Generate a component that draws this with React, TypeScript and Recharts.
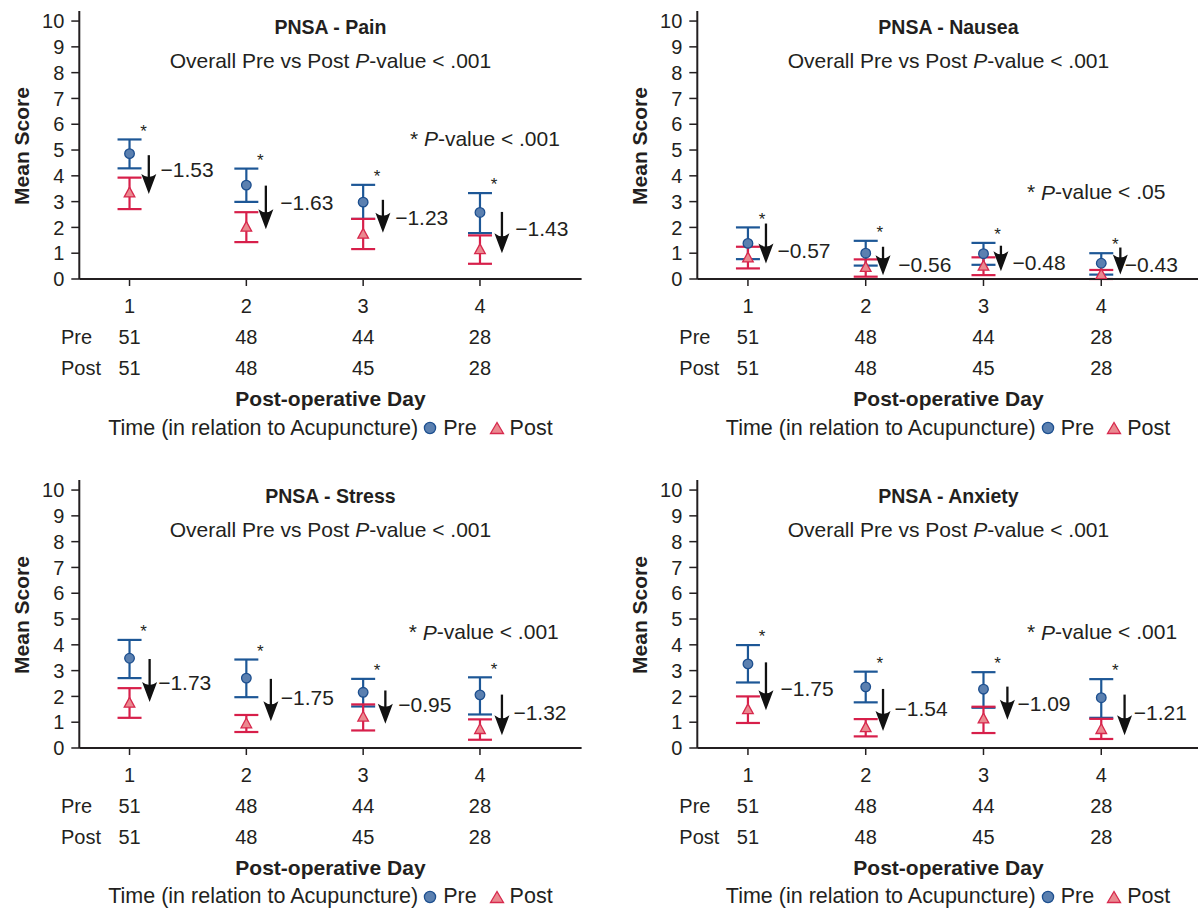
import React from 'react';
import { ComposedChart, Scatter, ErrorBar, XAxis, YAxis } from 'recharts';

const INK = '#231f20';
const FONT = '"Liberation Sans", Arial, Helvetica, sans-serif';
const BLUE_LINE = '#1d5796';
const BLUE_FILL = '#5b80b0';
const BLUE_EDGE = '#1d4f8f';
const RED_LINE = '#d71f4a';
const RED_FILL = '#ea8990';
const RED_EDGE = '#d7294d';

// shared categories / counts
const DAYS = [1, 2, 3, 4];
const PRE_N = [51, 48, 44, 28];
const POST_N = [51, 48, 45, 28];
const Y_TICKS = [0, 1, 2, 3, 4, 5, 6, 7, 8, 9, 10];

// PNSA - Pain
const painPre = [4.86, 3.64, 2.98, 2.58];
const painPreLow = [4.29, 2.99, 2.33, 1.78];
const painPreHigh = [5.41, 4.28, 3.65, 3.33];
const painPost = [3.33, 2.0, 1.73, 1.13];
const painPostLow = [2.71, 1.43, 1.16, 0.59];
const painPostHigh = [3.93, 2.59, 2.33, 1.69];
const painChange = ['\u22121.53', '\u22121.63', '\u22121.23', '\u22121.43'];

// PNSA - Nausea
const nauseaPre = [1.38, 1.0, 0.98, 0.61];
const nauseaPreLow = [0.77, 0.52, 0.55, 0.17];
const nauseaPreHigh = [2.0, 1.48, 1.4, 1.0];
const nauseaPost = [0.81, 0.44, 0.49, 0.16];
const nauseaPostLow = [0.41, 0.09, 0.15, 0.0];
const nauseaPostHigh = [1.25, 0.76, 0.84, 0.35];
const nauseaChange = ['\u22120.57', '\u22120.56', '\u22120.48', '\u22120.43'];

// PNSA - Stress
const stressPre = [3.48, 2.71, 2.16, 2.06];
const stressPreLow = [2.71, 1.97, 1.61, 1.3];
const stressPreHigh = [4.19, 3.43, 2.68, 2.74];
const stressPost = [1.73, 0.93, 1.19, 0.71];
const stressPostLow = [1.17, 0.62, 0.68, 0.32];
const stressPostHigh = [2.32, 1.28, 1.69, 1.11];
const stressChange = ['\u22121.73', '\u22121.75', '\u22120.95', '\u22121.32'];

// PNSA - Anxiety
const anxietyPre = [3.26, 2.37, 2.28, 1.95];
const anxietyPreLow = [2.54, 1.77, 1.56, 1.17];
const anxietyPreHigh = [3.99, 2.96, 2.94, 2.67];
const anxietyPost = [1.48, 0.78, 1.12, 0.71];
const anxietyPostLow = [0.97, 0.45, 0.58, 0.35];
const anxietyPostHigh = [2.0, 1.12, 1.6, 1.13];
const anxietyChange = ['\u22121.75', '\u22121.54', '\u22121.09', '\u22121.21'];

type Annot = {
  arrowFrom: number[];
  arrowTo: number[];
  arrowDx: number[];
  labelAt: number[];
  labelDx: number[];
  note: string;
  noteAt: [number, number];
};

type PanelDef = {
  title: string;
  pre: number[];
  preLow: number[];
  preHigh: number[];
  post: number[];
  postLow: number[];
  postHigh: number[];
  change: string[];
  annot: Annot;
};

const panels: PanelDef[] = [
  {
    title: 'PNSA - Pain',
    pre: painPre, preLow: painPreLow, preHigh: painPreHigh,
    post: painPost, postLow: painPostLow, postHigh: painPostHigh,
    change: painChange,
    annot: {
      arrowFrom: [4.8, 3.62, 3.07, 2.6],
      arrowTo: [3.3, 1.93, 1.79, 1.0],
      arrowDx: [0.165, 0.167, 0.169, 0.188],
      labelAt: [4.25, 2.98, 2.38, 1.97],
      labelDx: [0.265, 0.291, 0.274, 0.302],
      note: '.001',
      noteAt: [3.4, 5.46],
    },
  },
  {
    title: 'PNSA - Nausea',
    pre: nauseaPre, preLow: nauseaPreLow, preHigh: nauseaPreHigh,
    post: nauseaPost, postLow: nauseaPostLow, postHigh: nauseaPostHigh,
    change: nauseaChange,
    annot: {
      arrowFrom: [2.15, 1.25, 1.29, 1.22],
      arrowTo: [0.6, 0.15, 0.3, 0.17],
      arrowDx: [0.153, 0.147, 0.148, 0.162],
      labelAt: [1.1, 0.58, 0.64, 0.55],
      labelDx: [0.25, 0.276, 0.246, 0.2],
      note: '.05',
      noteAt: [3.37, 3.38],
    },
  },
  {
    title: 'PNSA - Stress',
    pre: stressPre, preLow: stressPreLow, preHigh: stressPreHigh,
    post: stressPost, postLow: stressPostLow, postHigh: stressPostHigh,
    change: stressChange,
    annot: {
      arrowFrom: [3.45, 2.68, 2.23, 2.07],
      arrowTo: [1.78, 1.04, 0.94, 0.49],
      arrowDx: [0.172, 0.21, 0.19, 0.188],
      labelAt: [2.55, 1.97, 1.69, 1.39],
      labelDx: [0.245, 0.295, 0.3, 0.286],
      note: '.001',
      noteAt: [3.39, 4.51],
    },
  },
  {
    title: 'PNSA - Anxiety',
    pre: anxietyPre, preLow: anxietyPreLow, preHigh: anxietyPreHigh,
    post: anxietyPost, postLow: anxietyPostLow, postHigh: anxietyPostHigh,
    change: anxietyChange,
    annot: {
      arrowFrom: [3.32, 2.29, 2.38, 2.07],
      arrowTo: [1.46, 0.66, 1.1, 0.49],
      arrowDx: [0.153, 0.147, 0.203, 0.198],
      labelAt: [2.29, 1.52, 1.71, 1.39],
      labelDx: [0.276, 0.245, 0.288, 0.276],
      note: '.001',
      noteAt: [3.37, 4.51],
    },
  },
];

const CHART_W = 600;
const CHART_H = 440;
const MARGIN = { top: 11, right: 18.4, bottom: 21, left: 29.3 };
const PLOT_CX = MARGIN.left + 50 + (CHART_W - MARGIN.left - 50 - MARGIN.right) / 2;

/** x-axis tick: day number plus the two n rows */
const DayTick = (props: any) => {
  const { x, y, payload } = props;
  const i = DAYS.indexOf(payload.value);
  const common = { textAnchor: 'middle' as const, dominantBaseline: 'central' as const, fill: INK, fontSize: 20 };
  return (
    <g>
      <text x={x} y={y + 20} {...common}>{payload.value}</text>
      <text x={x} y={y + 51} {...common}>{PRE_N[i]}</text>
      <text x={x} y={y + 82} {...common}>{POST_N[i]}</text>
      {i === 0 && (
        <>
          <text x={x - 68.6} y={y + 51} {...common} textAnchor="start">Pre</text>
          <text x={x - 68.6} y={y + 82} {...common} textAnchor="start">Post</text>
        </>
      )}
    </g>
  );
};

const XTitle = (props: any) => {
  const vb = props.viewBox || {};
  return (
    <text x={vb.x + vb.width / 2} y={vb.y + 119} textAnchor="middle" dominantBaseline="central"
      fill={INK} fontSize={21} fontWeight="bold">
      Post-operative Day
    </text>
  );
};

const YTitle = (props: any) => {
  const vb = props.viewBox || {};
  const cx = vb.x - 8;
  const cy = 146;
  return (
    <text x={cx} y={cy} transform={`rotate(-90, ${cx}, ${cy})`} textAnchor="middle" dominantBaseline="central"
      fill={INK} fontSize={21} fontWeight="bold">
      Mean Score
    </text>
  );
};

const PreDot = (p: any) => (
  <circle cx={p.cx} cy={p.cy} r={4.8} fill={BLUE_FILL} stroke={BLUE_EDGE} strokeWidth={1.3} />
);

const PostTri = (p: any) => (
  <polygon
    points={`${p.cx},${p.cy - 6} ${p.cx - 5.3},${p.cy + 3.8} ${p.cx + 5.3},${p.cy + 3.8}`}
    fill={RED_FILL} stroke={RED_EDGE} strokeWidth={1.3}
  />
);

const Blank = () => <g />;

const ArrowHead = (p: any) => (
  <path
    d={`M${p.cx},${p.cy} L${p.cx - 7.5},${p.cy - 20} Q${p.cx},${p.cy - 14} ${p.cx + 7.5},${p.cy - 20} Z`}
    fill="#111"
  />
);

const Star = (p: any) => (
  <text x={p.cx} y={p.cy + 5} textAnchor="middle" fontSize={17} fill={INK}>*</text>
);

const ChangeLabel = (p: any) => (
  <text x={p.cx} y={p.cy} textAnchor="start" dominantBaseline="central" fontSize={21} fill={INK}>
    {p.payload.label}
  </text>
);

const NoteLabel = (p: any) => (
  <text x={p.cx} y={p.cy} textAnchor="start" dominantBaseline="central" fontSize={21} fill={INK}>
    {'* '}<tspan fontStyle="italic">P</tspan>{`-value < ${p.payload.label}`}
  </text>
);

function Panel({ def, left, top, xMax }: { def: PanelDef; left: number; top: number; xMax: number }) {
  const a = def.annot;
  const preData = DAYS.map((d, i) => ({
    x: d, y: def.pre[i], err: [def.pre[i] - def.preLow[i], def.preHigh[i] - def.pre[i]],
  }));
  const postData = DAYS.map((d, i) => ({
    x: d, y: def.post[i], err: [def.post[i] - def.postLow[i], def.postHigh[i] - def.post[i]],
  }));
  const shaftData = DAYS.map((d, i) => ({
    x: d + a.arrowDx[i], y: a.arrowFrom[i], err: [a.arrowFrom[i] - a.arrowTo[i] - 0.3, 0],
  }));
  const headData = DAYS.map((d, i) => ({ x: d + a.arrowDx[i], y: a.arrowTo[i] }));
  const starData = DAYS.map((d, i) => ({ x: d + 0.12, y: def.preHigh[i] + 0.3 }));
  const labelData = DAYS.map((d, i) => ({ x: d + a.labelDx[i], y: a.labelAt[i], label: def.change[i] }));
  const noteData = [{ x: a.noteAt[0], y: a.noteAt[1], label: a.note }];

  return (
    <div style={{ position: 'absolute', left, top, width: CHART_W, height: CHART_H }}>
      <ComposedChart width={CHART_W} height={CHART_H} margin={MARGIN}>
        <XAxis
          type="number"
          dataKey="x"
          domain={[0.57, xMax]}
          ticks={DAYS}
          allowDataOverflow
          height={140}
          tickSize={7}
          tickMargin={0}
          tick={<DayTick />}
          axisLine={{ stroke: INK, strokeWidth: 2 }}
          tickLine={{ stroke: INK, strokeWidth: 1.5 }}
          label={<XTitle />}
        />
        <YAxis
          type="number"
          dataKey="y"
          domain={[0, 10.39]}
          ticks={Y_TICKS}
          interval={0}
          allowDataOverflow
          width={50}
          tickSize={8}
          tickMargin={7}
          tick={{ fill: INK, fontSize: 20 }}
          axisLine={{ stroke: INK, strokeWidth: 2 }}
          tickLine={{ stroke: INK, strokeWidth: 1.5 }}
          label={<YTitle />}
        />
        <Scatter data={preData} shape={PreDot} isAnimationActive={false}>
          <ErrorBar dataKey="err" direction="y" width={12} stroke={BLUE_LINE} strokeWidth={2.2} isAnimationActive={false} />
        </Scatter>
        <Scatter data={postData} shape={PostTri} isAnimationActive={false}>
          <ErrorBar dataKey="err" direction="y" width={12} stroke={RED_LINE} strokeWidth={2.2} isAnimationActive={false} />
        </Scatter>
        <Scatter data={shaftData} shape={Blank} isAnimationActive={false}>
          <ErrorBar dataKey="err" direction="y" width={0} stroke="#111" strokeWidth={2.3} isAnimationActive={false} />
        </Scatter>
        <Scatter data={headData} shape={ArrowHead} isAnimationActive={false} />
        <Scatter data={starData} shape={Star} isAnimationActive={false} />
        <Scatter data={labelData} shape={ChangeLabel} isAnimationActive={false} />
        <Scatter data={noteData} shape={NoteLabel} isAnimationActive={false} />
      </ComposedChart>

      {/* titles */}
      <svg width={CHART_W} height={CHART_H} style={{ position: 'absolute', left: 0, top: 0, pointerEvents: 'none' }}>
        <text x={PLOT_CX} y={27} textAnchor="middle" dominantBaseline="central" fontSize={19.5} fontWeight="bold" fill={INK}>
          {def.title}
        </text>
        <text x={PLOT_CX} y={60} textAnchor="middle" dominantBaseline="central" fontSize={21} fill={INK}>
          {'Overall Pre vs Post '}<tspan fontStyle="italic">P</tspan>{'-value < .001'}
        </text>
      </svg>

      {/* legend */}
      <div
        style={{
          position: 'absolute', left: PLOT_CX - 260, top: 413, width: 520, height: 30,
          display: 'flex', alignItems: 'center', justifyContent: 'center',
          fontSize: 21.5, color: INK, whiteSpace: 'nowrap',
        }}
      >
        <span>Time (in relation to Acupuncture)</span>
        <svg width={14} height={14} style={{ marginLeft: 5 }}>
          <circle cx={7} cy={7} r={5.6} fill={BLUE_FILL} stroke={BLUE_EDGE} strokeWidth={1.3} />
        </svg>
        <span style={{ marginLeft: 6 }}>Pre</span>
        <svg width={16} height={14} style={{ marginLeft: 12 }}>
          <polygon points="8,1.5 1.5,12.5 14.5,12.5" fill={RED_FILL} stroke={RED_EDGE} strokeWidth={1.3} />
        </svg>
        <span style={{ marginLeft: 5 }}>Post</span>
      </div>
    </div>
  );
}

export default function App() {
  return (
    <div
      style={{
        position: 'absolute', left: 0, top: 0, width: 1198, height: 909,
        background: '#fff', fontFamily: FONT, overflow: 'hidden',
      }}
    >
      <Panel def={panels[0]} left={0} top={0} xMax={4.87} />
      <Panel def={panels[1]} left={617.6} top={0} xMax={4.835} />
      <Panel def={panels[2]} left={0} top={468.7} xMax={4.87} />
      <Panel def={panels[3]} left={617.6} top={468.7} xMax={4.835} />
    </div>
  );
}
